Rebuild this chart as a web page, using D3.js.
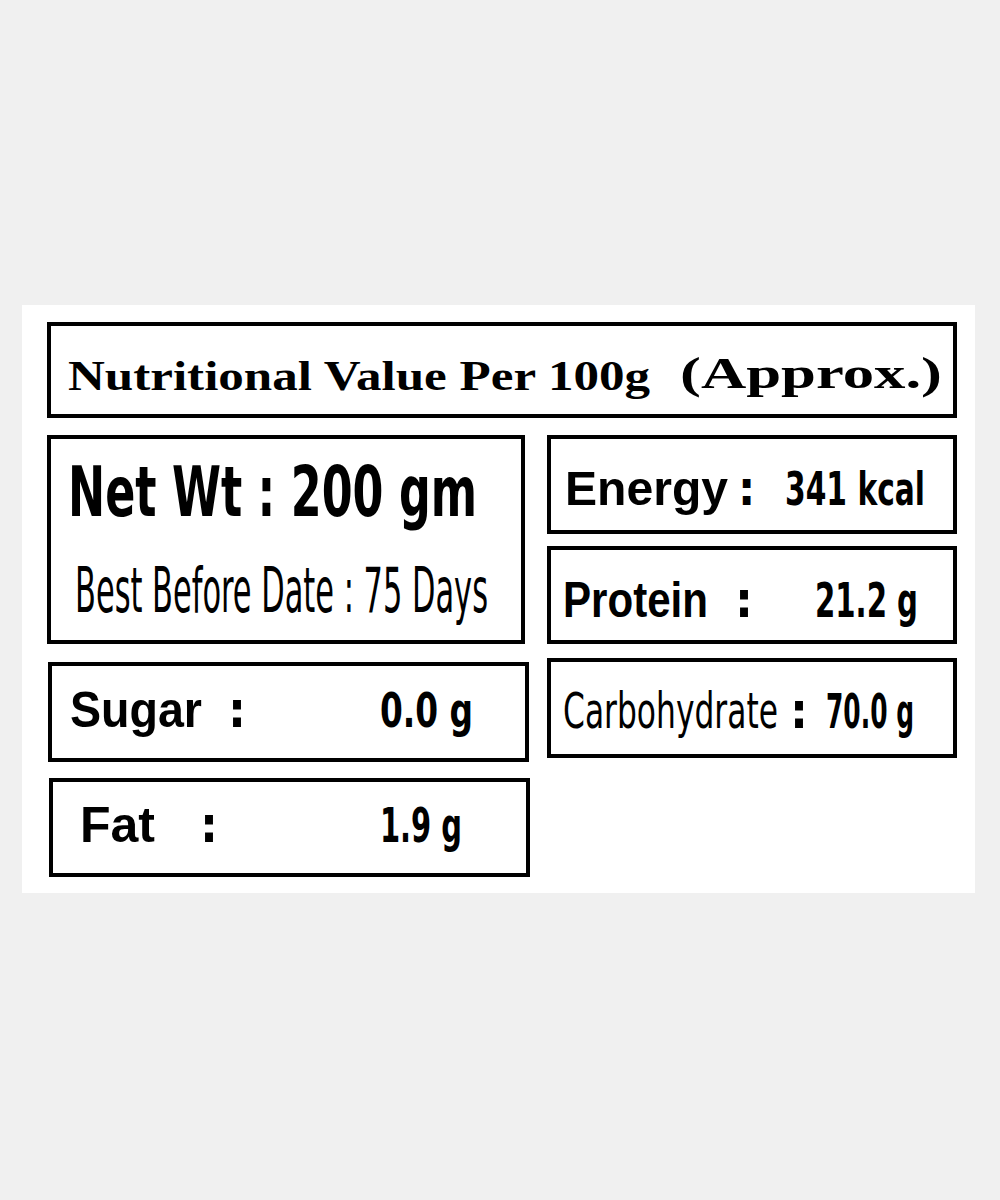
<!DOCTYPE html>
<html>
<head>
<meta charset="utf-8">
<script src="https://cdn.jsdelivr.net/npm/d3@7"></script>
<style>
  body { margin: 0; background: #f0f0f0; }
</style>
</head>
<body>
<svg id="label" width="1000" height="1200"></svg>
<script>
// label contents
const nutrients = ['Energy', 'Protein', 'Carbohydrate', 'Sugar', 'Fat'];
const amounts = ['341 kcal', '21.2 g', '70.0 g', '0.0 g', '1.9 g'];
const titleParts = ['Nutritional Value Per 100g', '(Approx.)'];
const netWeight = 'Net Wt : 200 gm';
const shelfLife = 'Best Before Date : 75 Days';

const svg = d3.select('#label');
const cond = "'Liberation Sans Narrow', 'DejaVu Sans Condensed', 'Liberation Sans', sans-serif";
const serif = "'Liberation Serif', 'DejaVu Serif', serif";

// white card
svg.append('rect').attr('x', 22).attr('y', 305).attr('width', 953).attr('height', 588).attr('fill', '#fff');

// box layout: [x, y, w, h]
const boxes = {
  title: [49, 324, 906, 92],
  net: [49, 437, 474, 205],
  Energy: [549, 437, 406, 95],
  Protein: [549, 548, 406, 94],
  Carbohydrate: [549, 660, 406, 96],
  Sugar: [50, 664, 477, 96],
  Fat: [51, 780, 477, 95]
};
Object.values(boxes).forEach(b => {
  svg.append('rect').attr('x', b[0]).attr('y', b[1]).attr('width', b[2]).attr('height', b[3])
    .attr('fill', 'none').attr('stroke', '#000').attr('stroke-width', 4);
});

function txt(s, x, y, size, len, family, weight) {
  const t = svg.append('text').attr('x', x).attr('y', y).text(s)
    .attr('font-family', family || cond).attr('font-size', size)
    .attr('font-weight', weight || 'bold').attr('fill', '#000');
  if (len) t.attr('textLength', len).attr('lengthAdjust', 'spacingAndGlyphs');
  return t;
}

// title
txt(titleParts[0], 68, 390, 42, 582, serif);
txt(titleParts[1], 680, 388, 44, 262, serif);

// net weight block
txt(netWeight, 68, 516, 70, 409);
txt(shelfLife, 75, 612, 62, 413, cond, 'normal');

// nutrient rows: label x/width, colon x, value x/width, baseline, size
const rowLayout = {
  Energy: [565, 163, 738, 785, 140, 505, 48],
  Protein: [563, 145, 735, 815, 103, 617, 50],
  Carbohydrate: [563, 215, 790, 826, 88, 728, 50],
  Sugar: [70, 132, 228, 380, 93, 727, 50],
  Fat: [80, 75, 200, 380, 82, 842, 50]
};
nutrients.forEach((n, i) => {
  const r = rowLayout[n];
  const carb = n === 'Carbohydrate';
  txt(n, r[0], r[5], r[6], r[1], carb ? cond : "'Liberation Sans', 'DejaVu Sans', sans-serif", carb ? 'normal' : 'bold');
  txt(':', r[2], r[5], r[6], null);
  txt(amounts[i], r[3], r[5], r[6] - 2, r[4], cond, 'bold');
});
</script>
</body>
</html>
